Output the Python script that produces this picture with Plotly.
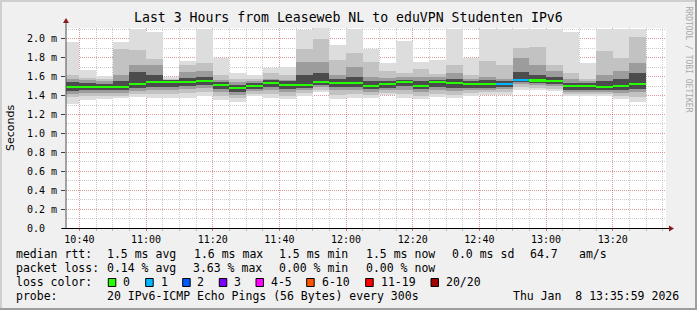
import plotly.graph_objects as go

# ---------------- data ----------------
slots = ["10:35", "10:40", "10:45", "10:50", "10:55", "11:00", "11:05", "11:10", "11:15", "11:20",
         "11:25", "11:30", "11:35", "11:40", "11:45", "11:50", "11:55", "12:00", "12:05", "12:10",
         "12:15", "12:20", "12:25", "12:30", "12:35", "12:40", "12:45", "12:50", "12:55", "13:00",
         "13:05", "13:10", "13:15", "13:20", "13:25"]

# smoke envelope (ms): outer max/min, then progressively inner bands
rtt_max = [1.97, 1.67, 1.61, 1.97, 2.10, 2.07, 1.60, 1.77, 2.10, 1.80, 1.64, 1.62, 1.69, 1.70, 2.09, 2.11, 1.93, 2.10,
           1.89, 1.75, 1.98, 1.76, 1.78, 2.10, 1.80, 2.10, 2.10, 2.10, 2.10, 2.10, 2.07, 1.74, 2.10, 2.10, 2.10]
hi2 = [1.62, 1.59, 1.58, 1.89, 1.88, 1.79, 1.58, 1.72, 1.74, 1.62, 1.58, 1.58, 1.64, 1.62, 1.89, 2.00, 1.78, 1.85,
       1.76, 1.66, 1.64, 1.68, 1.63, 1.72, 1.62, 1.77, 1.72, 1.90, 1.91, 1.72, 1.64, 1.58, 1.87, 1.80, 2.02]
hi3 = [1.58, 1.56, 1.55, 1.62, 1.72, 1.72, 1.57, 1.65, 1.66, 1.57, 1.54, 1.55, 1.58, 1.57, 1.76, 1.76, 1.62, 1.70,
       1.60, 1.59, 1.60, 1.60, 1.60, 1.64, 1.58, 1.60, 1.58, 1.80, 1.72, 1.66, 1.58, 1.55, 1.62, 1.66, 1.75]
hi4 = [1.54, 1.53, 1.52, 1.55, 1.65, 1.62, 1.56, 1.59, 1.60, 1.54, 1.51, 1.53, 1.56, 1.55, 1.62, 1.64, 1.58, 1.60,
       1.55, 1.55, 1.57, 1.55, 1.57, 1.58, 1.55, 1.56, 1.55, 1.65, 1.62, 1.60, 1.53, 1.53, 1.55, 1.58, 1.64]
median = [1.49, 1.49, 1.49, 1.49, 1.52, 1.54, 1.54, 1.54, 1.55, 1.51, 1.48, 1.50, 1.53, 1.51, 1.51, 1.54, 1.53, 1.53,
          1.50, 1.52, 1.54, 1.50, 1.54, 1.53, 1.52, 1.52, 1.52, 1.57, 1.56, 1.55, 1.50, 1.50, 1.49, 1.50, 1.52]
lo4 = [1.45, 1.46, 1.46, 1.46, 1.48, 1.49, 1.49, 1.50, 1.51, 1.47, 1.44, 1.47, 1.49, 1.47, 1.48, 1.51, 1.49, 1.49,
       1.47, 1.48, 1.50, 1.47, 1.49, 1.48, 1.48, 1.48, 1.49, 1.54, 1.53, 1.52, 1.46, 1.46, 1.46, 1.46, 1.47]
lo3 = [1.42, 1.43, 1.43, 1.43, 1.45, 1.46, 1.46, 1.47, 1.48, 1.44, 1.41, 1.45, 1.46, 1.44, 1.46, 1.49, 1.46, 1.46,
       1.44, 1.46, 1.46, 1.44, 1.46, 1.45, 1.46, 1.46, 1.47, 1.52, 1.51, 1.50, 1.44, 1.44, 1.44, 1.43, 1.44]
lo2 = [1.39, 1.40, 1.40, 1.40, 1.42, 1.42, 1.42, 1.43, 1.44, 1.40, 1.37, 1.42, 1.42, 1.40, 1.43, 1.46, 1.41, 1.42,
       1.41, 1.43, 1.42, 1.40, 1.42, 1.41, 1.43, 1.44, 1.44, 1.49, 1.48, 1.47, 1.42, 1.42, 1.42, 1.40, 1.39]
rtt_min = [1.31, 1.35, 1.36, 1.37, 1.39, 1.37, 1.37, 1.38, 1.40, 1.35, 1.33, 1.40, 1.38, 1.36, 1.40, 1.44, 1.36, 1.38,
           1.38, 1.41, 1.38, 1.36, 1.39, 1.37, 1.40, 1.41, 1.41, 1.46, 1.46, 1.45, 1.40, 1.40, 1.40, 1.36, 1.33]
lost = [0, 0, 0, 0, 0, 0, 0, 0, 0, 0, 0, 0, 0, 0, 0, 0, 0, 0,
        0, 0, 0, 0, 0, 0, 0, 0, 1, 1, 0, 0, 0, 0, 0, 0, 0]

loss_labels = ["0", "1", "2", "3", "4-5", "6-10", "11-19", "20/20"]
loss_colors = ["#26ff00", "#00b8ff", "#0059ff", "#7e00ff", "#ff00ff", "#ff5500", "#ff0000", "#a10000"]

y_tickvals = [0.0, 0.2, 0.4, 0.6, 0.8, 1.0, 1.2, 1.4, 1.6, 1.8, 2.0]
y_ticktext = ["0.0\u00a0\u00a0", "0.2 m", "0.4 m", "0.6 m", "0.8 m", "1.0 m", "1.2 m", "1.4 m", "1.6 m", "1.8 m", "2.0 m"]
x_tickvals = ["10:40", "11:00", "11:20", "11:40", "12:00", "12:20", "12:40", "13:00", "13:20"]

title = "Last 3 Hours from Leaseweb NL to eduVPN Studenten IPv6"
row1 = [("median rtt:", 16), ("1.5 ms avg", 107.3), ("1.6 ms max", 194), ("1.5 ms min", 279.3),
        ("1.5 ms now", 366), ("0.0 ms sd", 451.7), ("64.7", 530), ("am/s", 579.3)]
row2 = [("packet loss:", 16), ("0.14 % avg", 107.3), ("3.63 % max", 192.7), ("0.00 % min", 279.3),
        ("0.00 % now", 366)]
probe_text = "20 IPv6-ICMP Echo Pings (56 Bytes) every 300s"
date_text = "Thu Jan\u00a0\u00a08 13:35:59 2026"

# ---------------- layout geometry ----------------
W, H = 697, 310
L, R, T, B = 66, 31, 28, 82
PW, PH = W - L - R, H - T - B
DAY = "2026-01-08 "
MONO = "DejaVu Sans Mono"


def px(x):
    return (x - L) / PW


def py(y):
    return (T + PH - y) / PH


xs = [DAY + s + ":00" for s in slots]
fig = go.Figure()

bands = [(rtt_min, rtt_max, "#dddddd"), (lo2, hi2, "#c2c2c2"), (lo3, hi3, "#9c9c9c"), (lo4, hi4, "#4c4c4c")]
for lo, hi, col in bands:
    fig.add_trace(go.Bar(x=xs, base=lo, y=[h - l for h, l in zip(hi, lo)], width=300000, offset=0,
                         marker=dict(color=col, line=dict(width=0), opacity=1), hoverinfo="skip",
                         showlegend=False))

fig.add_trace(go.Bar(x=xs, base=[m - 0.011 for m in median], y=[0.022] * len(median), width=300000, offset=0,
                     marker=dict(color=[loss_colors[k] for k in lost], line=dict(width=0), opacity=1),
                     hoverinfo="skip", showlegend=False))

fig.update_layout(
    width=W, height=H, margin=dict(l=L, r=R, t=T, b=B, pad=0),
    paper_bgcolor="#f0f0f0", plot_bgcolor="#ffffff",
    barmode="overlay", bargap=0, showlegend=False,
    font=dict(family=MONO, size=10, color="#000000"),
)
fig.update_xaxes(
    type="date", range=[DAY + "10:35:59", DAY + "13:35:59"],
    tickvals=[DAY + t + ":00" for t in x_tickvals], ticktext=x_tickvals,
    showgrid=True, gridcolor="rgba(255,80,80,0.38)", griddash="1px,1px", gridwidth=1,
    minor=dict(dtick=300000, tick0=DAY + "10:35:00", showgrid=True, gridcolor="rgba(140,140,140,0.45)",
               griddash="1px,1px", ticks="outside", ticklen=2, tickcolor="#c0c0c0"),
    ticks="outside", ticklen=2, tickcolor="#e07070",
    tickfont=dict(family=MONO, size=10, color="#000000"),
    showline=False, zeroline=False, layer="above traces", fixedrange=True,
)
fig.update_yaxes(
    range=[0, 2.115], tickvals=y_tickvals, ticktext=y_ticktext,
    showgrid=True, gridcolor="rgba(255,80,80,0.38)", griddash="1px,1px", gridwidth=1,
    minor=dict(dtick=0.1, tick0=0, showgrid=True, gridcolor="rgba(140,140,140,0.45)", griddash="1px,1px"),
    ticks="outside", ticklen=4, tickcolor="#404040", ticklabelstandoff=2,
    tickfont=dict(family=MONO, size=10, color="#000000"),
    showline=False, zeroline=False, layer="above traces", fixedrange=True,
)

shapes = []
# frame (3D border)
shapes.append(dict(type="line", xref="paper", yref="paper", x0=px(0), x1=px(W), y0=py(1), y1=py(1),
                   line=dict(color="#cfcfcf", width=2)))
shapes.append(dict(type="line", xref="paper", yref="paper", x0=px(1), x1=px(1), y0=py(0), y1=py(H),
                   line=dict(color="#cfcfcf", width=2)))
shapes.append(dict(type="line", xref="paper", yref="paper", x0=px(0), x1=px(W), y0=py(H - 1), y1=py(H - 1),
                   line=dict(color="#9e9e9e", width=2)))
shapes.append(dict(type="line", xref="paper", yref="paper", x0=px(W - 1), x1=px(W - 1), y0=py(0), y1=py(H),
                   line=dict(color="#9e9e9e", width=2)))
# axes
shapes.append(dict(type="line", xref="paper", yref="paper", x0=px(66), x1=px(66), y0=py(228.5), y1=py(22),
                   line=dict(color="#505050", width=1)))
shapes.append(dict(type="line", xref="paper", yref="paper", x0=px(62), x1=px(670), y0=py(228.5), y1=py(228.5),
                   line=dict(color="#000000", width=1)))
# arrows
shapes.append(dict(type="path", xref="paper", yref="paper",
                   path=f"M {px(63)},{py(23)} L {px(69)},{py(23)} L {px(66)},{py(18)} Z",
                   fillcolor="#8b1a1a", line=dict(color="#8b1a1a", width=0)))
shapes.append(dict(type="path", xref="paper", yref="paper",
                   path=f"M {px(669)},{py(225.5)} L {px(669)},{py(231.5)} L {px(674)},{py(228.5)} Z",
                   fillcolor="#8b1a1a", line=dict(color="#8b1a1a", width=0)))
# loss colour boxes
box_x = [108.3, 145.7, 182.7, 219.3, 256, 306.7, 365.7, 431]
lab_x = [123.3, 160.7, 197.3, 234.3, 270.7, 322.3, 380.7, 445.7]
for bx, c in zip(box_x, loss_colors):
    shapes.append(dict(type="rect", xref="paper", yref="paper", x0=px(bx), x1=px(bx + 7.5),
                       y0=py(286.5), y1=py(278.5), fillcolor=c, line=dict(color="#000000", width=1)))

ann = []


def text(t, x, y, size=11.5, anchor="left", color="#000000", family=MONO, angle=0, yanchor="middle"):
    ann.append(dict(text=t, x=px(x), y=py(y), xref="paper", yref="paper", showarrow=False,
                    xanchor=anchor, yanchor=yanchor, textangle=angle, borderpad=0, borderwidth=0,
                    font=dict(family=family, size=size, color=color)))


text(title, 348, 18, size=13.2, anchor="center")
text("Seconds", 10, 128, size=11, anchor="center", family="DejaVu Sans", angle=-90)
text("RRDTOOL / TOBI OETIKER", 688.5, 59, size=8, anchor="center", color="#a8a8a8", angle=90)
for t, x in row1:
    text(t, x, 254.3)
for t, x in row2:
    text(t, x, 268.3)
text("loss color:", 16, 282.3)
for t, x in zip(loss_labels, lab_x):
    text(t, x, 282.3)
text("probe:", 16, 296)
text(probe_text, 107.3, 296)
text(date_text, 513.3, 296)

fig.update_layout(shapes=shapes, annotations=ann)
fig.write_html("out.html")
